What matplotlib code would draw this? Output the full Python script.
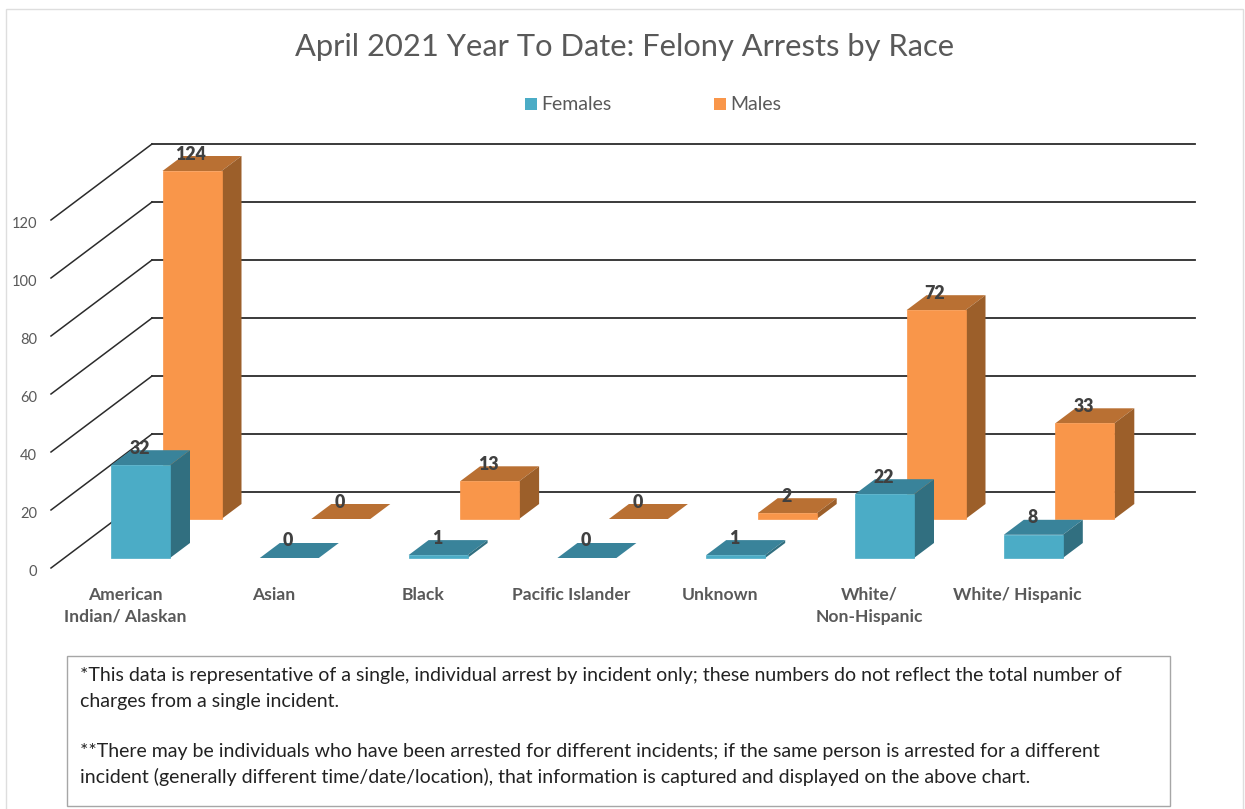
import matplotlib
matplotlib.use('Agg')
import matplotlib.pyplot as plt
from matplotlib.patches import Rectangle

# Dados do grafico
categorias = ['American\nIndian/ Alaskan', 'Asian', 'Black', 'Pacific Islander', 'Unknown', 'White/\nNon-Hispanic', 'White/ Hispanic']
females = [32, 0, 1, 0, 1, 22, 8]
males = [124, 0, 13, 0, 2, 72, 33]
y_ticks = [0, 20, 40, 60, 80, 100, 120]
titulo = 'April 2021 Year To Date: Felony Arrests by Race'
nota = ['*This data is representative of a single, individual arrest by incident only; these numbers do not reflect the total number of',
        'charges from a single incident.',
        '**There may be individuals who have been arrested for different incidents; if the same person is arrested for a different',
        'incident (generally different time/date/location), that information is captured and displayed on the above chart.']

plt.rcParams['font.family'] = ['Lato', 'DejaVu Sans']

W, H = 1245, 809
px_x = 148.8   # pixels per category
px_y = 2.9     # pixels per unit
x0_px = 111    # left edge of the first female bar
y0_px = 568    # pixel height of value 0 on the front of the floor


def dx(p):
    return p / px_x


def dy(p):
    return p / px_y


fig = plt.figure(figsize=(W / 100, H / 100), dpi=100)
ax = fig.add_axes([0, 0, 1, 1])
ax.set_xlim(dx(-x0_px), dx(W - x0_px))
ax.set_ylim(dy(y0_px - H), dy(y0_px))
ax.axis('off')

teal = ('#4BACC6', '#39839A', '#316F80')
orange = ('#F9964A', '#B97033', '#9C5F2A')
tinta_grid = '#2B2B2B'
cinza = '#595959'

# moldura externa
fig.add_artist(Rectangle((6 / W, -0.02), 1237 / W, 1.02 - 9 / H, transform=fig.transFigure,
                         fill=False, edgecolor='#DEDEDE', linewidth=1))

# parede do fundo e diagonais
x_esq = dx(51 - x0_px)
x_par = dx(152 - x0_px)
x_dir = dx(1195 - x0_px)
for t in y_ticks:
    ax.plot([x_esq, x_par], [t, t + dy(76)], color=tinta_grid, lw=1.1, zorder=1)
    ax.plot([x_par, x_dir], [t + dy(76), t + dy(76)], color=tinta_grid, lw=1.3, zorder=1)
    ax.text(dx(37 - x0_px), t - dy(3.5), str(t), ha='right', va='center', fontsize=10.5, color=cinza)


def barra(i, valor, cores, x_extra, base_px, z):
    larg = dx(59)
    prof_x = dx(20)
    prof_y = dy(15)
    base = dy(y0_px - base_px)
    x = i + dx(x_extra)
    v = min(valor, y_ticks[-1])
    topo = base + v
    ax.fill([x, x + larg, x + larg + prof_x, x + prof_x], [topo, topo, topo + prof_y, topo + prof_y],
            color=cores[1], lw=0, zorder=z)
    if v > 0:
        ax.fill([x + larg, x + larg + prof_x, x + larg + prof_x, x + larg],
                [base, base + prof_y, topo + prof_y, topo], color=cores[2], lw=0, zorder=z)
        ax.bar(x, v, larg, bottom=base, align='edge', color=cores[0], edgecolor=cores[0], lw=0.5, zorder=z)
    ax.text(x + larg / 2 - dx(1), topo + dy(17), str(valor), ha='center', va='center',
            fontsize=12.8, fontweight='heavy', color='#404040', zorder=10)


for i in range(len(categorias)):
    barra(i, males[i], orange, 51.5, 519, 3)
for i in range(len(categorias)):
    barra(i, females[i], teal, 0, 558, 4)

# rotulos das categorias
for i, cat in enumerate(categorias):
    ax.text(i + dx(14), dy(y0_px - 587), cat, ha='center', va='top', fontsize=12.6, fontweight='bold',
            color=cinza, linespacing=1.45)

# titulo e legenda
fig.text(624.5 / W, 1 - 47 / H, titulo, ha='center', va='center', fontsize=22.2, color=cinza)
fig.add_artist(Rectangle((525 / W, 1 - 110 / H), 12 / W, 12 / H, transform=fig.transFigure, color=teal[0], lw=0))
fig.add_artist(Rectangle((714 / W, 1 - 110 / H), 12 / W, 12 / H, transform=fig.transFigure, color=orange[0], lw=0))
fig.text(541 / W, 1 - 105 / H, 'Females', ha='left', va='center', fontsize=14, color=cinza)
fig.text(730 / W, 1 - 105 / H, 'Males', ha='left', va='center', fontsize=14, color=cinza)

# caixa de notas
fig.add_artist(Rectangle((67 / W, 1 - 806 / H), 1103 / W, 150 / H, transform=fig.transFigure,
                         fill=False, edgecolor='#A6A6A6', linewidth=1))
for linha, y_px in zip(nota, [676, 702, 752, 777]):
    fig.text(80 / W, 1 - y_px / H, linha, ha='left', va='center', fontsize=14.0, color='#222222')

fig.savefig('out.png', dpi=100)
